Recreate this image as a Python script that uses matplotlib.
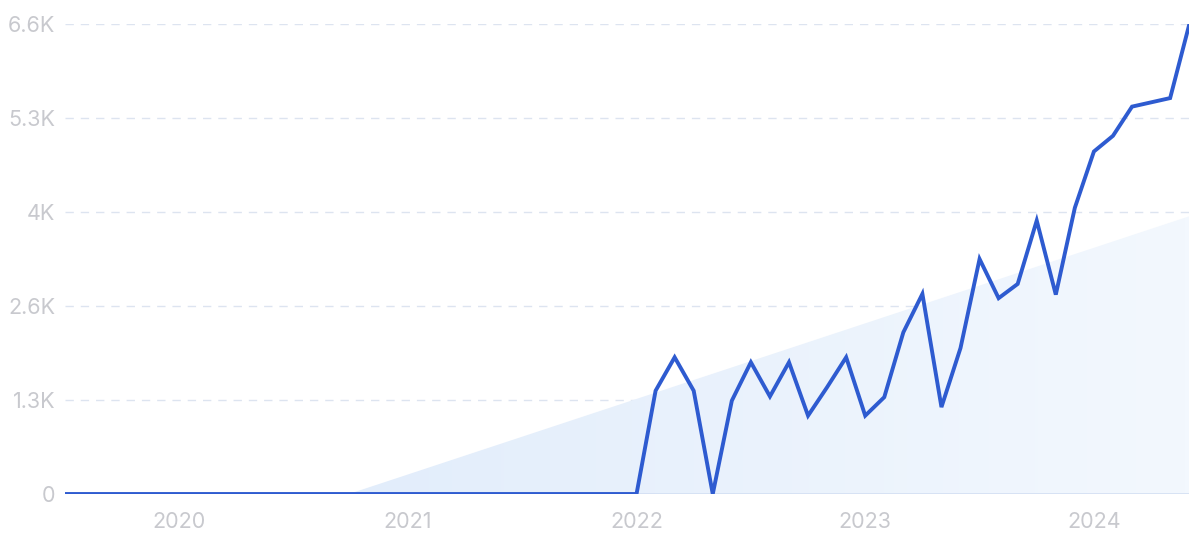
import numpy as np
import matplotlib.pyplot as plt
from matplotlib.patches import Polygon
from matplotlib.colors import LinearSegmentedColormap

# monthly values, Jul 2019 .. Jun 2024
months = np.arange(60)  # 0 = Jul 2019
values = [0] * 31 + [
    1450, 1920, 1450, 0, 1310, 1850, 1370, 1850, 1100, 1500,
    1920, 1100, 1360, 2270, 2810, 1220, 2050, 3300, 2750, 2950,
    3840, 2800, 4020, 4810, 5030, 5440, 5500, 5560, 6590,
]

# trend band (month index, value)
trend_x = [14.9, 59]
trend_y = [0, 3900]

year_labels = ['2020', '2021', '2022', '2023', '2024']
year_pos = [6, 18, 30, 42, 54]
ytick_vals = [0, 1320, 2640, 3960, 5280, 6600]
ytick_labels = ['0', '1.3K', '2.6K', '4K', '5.3K', '6.6K']

plt.rcParams['font.family'] = ['Inter', 'DejaVu Sans']

fig = plt.figure(figsize=(12, 5.56), dpi=100)
ax = fig.add_axes([0.054, 0.1115, 0.937, 0.8453])
ax.set_xlim(0, 59)
ax.set_ylim(0, 6600)

# gradient-filled trend triangle
poly = Polygon([(trend_x[0], trend_y[0]), (trend_x[1], trend_y[1]), (trend_x[1], 0)],
               closed=True, facecolor='none', edgecolor='none')
ax.add_patch(poly)
cmap = LinearSegmentedColormap.from_list('g', ['#e2edfb', '#f3f8fe'])
grad = np.linspace(0, 1, 256).reshape(1, -1)
im = ax.imshow(grad, cmap=cmap, aspect='auto', extent=[trend_x[0], trend_x[1], 0, trend_y[1]],
               zorder=1, interpolation='bicubic')
im.set_clip_path(poly)

for v in ytick_vals[1:]:
    ax.axhline(v, color='#dde4f0', lw=1, dashes=(6, 5), zorder=0.5)
ax.axhline(0, color='#d3dff3', lw=1.2, zorder=1.5)

ax.plot(months, values, color='#2e5bd0', lw=2.8, solid_joinstyle='miter', zorder=3)

ax.set_yticks(ytick_vals)
ax.set_yticklabels(ytick_labels)
ax.set_xticks(year_pos)
ax.set_xticklabels(year_labels)
ax.tick_params(axis='both', length=0, labelsize=15.5, labelcolor='#c8c9ce')
ax.tick_params(axis='x', pad=13)
ax.tick_params(axis='y', pad=7)
for s in ax.spines.values():
    s.set_visible(False)

fig.savefig('out.png', dpi=100)
